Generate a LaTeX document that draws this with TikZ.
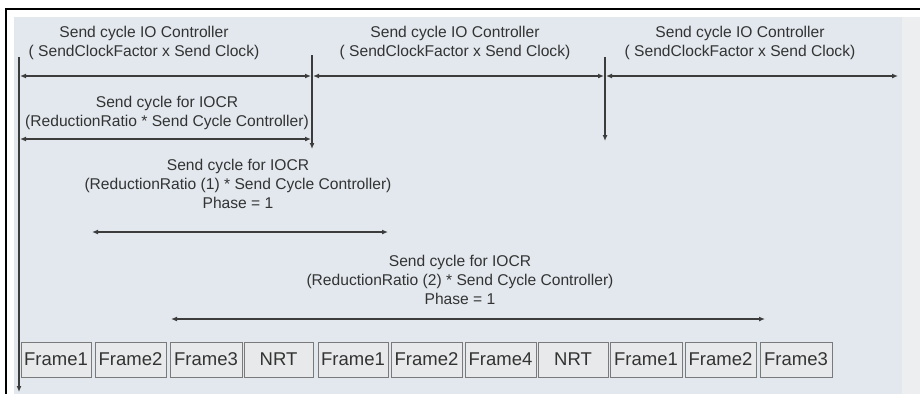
\documentclass[tikz,border=0pt]{standalone}
\usepackage{fontspec}
\setmainfont{Liberation Sans}
\usetikzlibrary{arrows.meta}
\definecolor{bgblue}{HTML}{E2E8EE}
\definecolor{bgright}{HTML}{ECEEF0}
\definecolor{ink}{HTML}{333333}
\definecolor{lin}{HTML}{3C3C3C}
\definecolor{boxfill}{HTML}{E8E9EA}
\definecolor{boxline}{HTML}{7A7A7A}
\tikzset{
  lbl/.style={text=ink, align=center, inner sep=0pt, font=\fontsize{15.6}{19}\selectfont},
  framebox/.style={draw=boxline, fill=boxfill, line width=1pt, minimum height=35pt, inner sep=0pt, text=ink, font=\fontsize{18.5}{20}\selectfont},
  dim/.style={draw=lin, line width=1.2pt, {Latex[length=6pt,width=5pt]}-{Latex[length=6pt,width=5pt]}},
  vline/.style={draw=lin, line width=1.2pt, -{Latex[length=6pt,width=5pt]}},
}
\begin{document}
\begin{tikzpicture}[x=1pt,y=-1pt]
\useasboundingbox (0,0) rectangle (920,394);
\fill[white] (0,0) rectangle (920,394);
\fill[bgblue] (14,17) rectangle (902,394);
\fill[bgright] (902,17) rectangle (920,394);
\draw[black, line width=2.5pt] (5,9) -- (920,9);
\draw[black, line width=2.5pt] (6,8) -- (6,394);

% labels
\node[lbl] (c1) at (144,43) {Send cycle IO Controller\\( SendClockFactor x Send Clock)};
\node[lbl] (c2) at (455,43) {Send cycle IO Controller\\( SendClockFactor x Send Clock)};
\node[lbl] (c3) at (740,43) {Send cycle IO Controller\\( SendClockFactor x Send Clock)};
\node[lbl] (r0) at (167,113) {Send cycle for IOCR\\(ReductionRatio * Send Cycle Controller)};
\node[lbl] (r1) at (238,183.5) {Send cycle for IOCR\\(ReductionRatio (1) * Send Cycle Controller)\\Phase = 1};
\node[lbl] (r2) at (460,279.5) {Send cycle for IOCR\\(ReductionRatio (2) * Send Cycle Controller)\\Phase = 1};

% coordinates
\coordinate (v1t) at (19,57);
\coordinate (v1b) at (19,392);
\coordinate (v2t) at (312,55);
\coordinate (v2b) at (312,149);
\coordinate (v3t) at (605,57);
\coordinate (v3b) at (605,141);
\coordinate (a1l) at (20,76);
\coordinate (a1r) at (311,76);
\coordinate (a2l) at (313,76);
\coordinate (a2r) at (604,76);
\coordinate (a3l) at (606,76);
\coordinate (a3r) at (898,76);
\coordinate (b1l) at (20,139);
\coordinate (b1r) at (311,139);
\coordinate (d1l) at (92,232);
\coordinate (d1r) at (388,232);
\coordinate (e1l) at (171,319);
\coordinate (e1r) at (765,319);

% vertical lines
\draw[vline] (v1t) -- (v1b);
\draw[vline] (v2t) -- (v2b);
\draw[vline] (v3t) -- (v3b);

% dimension arrows
\draw[dim] (a1l) -- (a1r);
\draw[dim] (a2l) -- (a2r);
\draw[dim] (a3l) -- (a3r);
\draw[dim] (b1l) -- (b1r);
\draw[dim] (d1l) -- (d1r);
\draw[dim] (e1l) -- (e1r);

% frames
\node[framebox, minimum width=70pt] (f1) at (56,359.5) {Frame1};
\node[framebox, minimum width=71pt] (f2) at (130.5,359.5) {Frame2};
\node[framebox, minimum width=72pt] (f3) at (206,359.5) {Frame3};
\node[framebox, minimum width=69pt] (f4) at (278.5,359.5) {NRT};
\node[framebox, minimum width=70pt] (f5) at (353,359.5) {Frame1};
\node[framebox, minimum width=71pt] (f6) at (426.5,359.5) {Frame2};
\node[framebox, minimum width=71pt] (f7) at (500.5,359.5) {Frame4};
\node[framebox, minimum width=70pt] (f8) at (573,359.5) {NRT};
\node[framebox, minimum width=72pt] (f9) at (646,359.5) {Frame1};
\node[framebox, minimum width=71pt] (f10) at (720.5,359.5) {Frame2};
\node[framebox, minimum width=72pt] (f11) at (796,359.5) {Frame3};
\end{tikzpicture}
\end{document}
